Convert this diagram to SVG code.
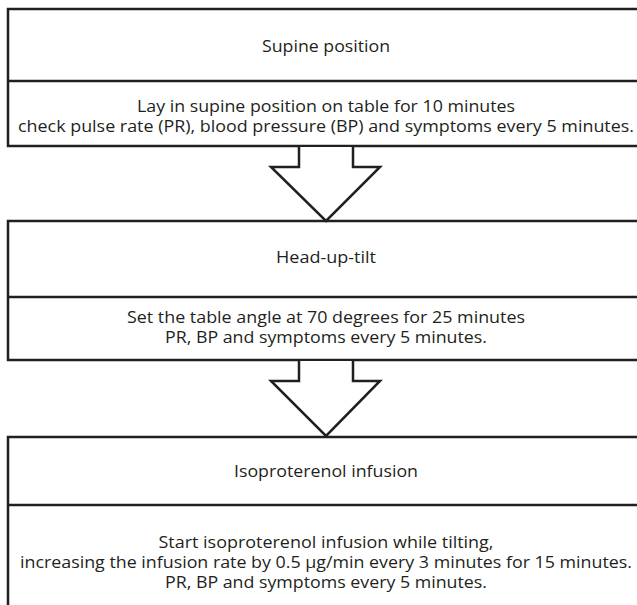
<svg xmlns="http://www.w3.org/2000/svg" width="637" height="605" viewBox="0 0 637 605">
<style>
.box{fill:#ffffff;stroke:#231f20;stroke-width:2.5}
.div{stroke:#231f20;stroke-width:2.5}
.arrow{fill:#ffffff;stroke:#231f20;stroke-width:2.5;stroke-linejoin:miter}
text{font-family:"Open Sans","Liberation Sans",sans-serif;font-size:16px;fill:#231f20;text-anchor:middle}
</style>
<rect x="0" y="0" width="637" height="605" fill="#ffffff"/>
<g id="node-supine">
<rect class="box" x="8" y="9" width="640" height="137"/>
<line class="div" x1="8" y1="81" x2="648" y2="81"/>
<text x="326" y="52" textLength="128" lengthAdjust="spacingAndGlyphs">Supine position</text>
<text x="326" y="112" textLength="378" lengthAdjust="spacingAndGlyphs">Lay in supine position on table for 10 minutes</text>
<text x="326" y="132" textLength="616" lengthAdjust="spacingAndGlyphs">check pulse rate (PR), blood pressure (BP) and symptoms every 5 minutes.</text>
</g>
<g id="node-hut">
<rect class="box" x="8" y="221" width="640" height="139"/>
<line class="div" x1="8" y1="297" x2="648" y2="297"/>
<text x="326" y="263" textLength="100" lengthAdjust="spacingAndGlyphs">Head-up-tilt</text>
<text x="326" y="323" textLength="398" lengthAdjust="spacingAndGlyphs">Set the table angle at 70 degrees for 25 minutes</text>
<text x="326" y="343" textLength="322" lengthAdjust="spacingAndGlyphs">PR, BP and symptoms every 5 minutes.</text>
</g>
<g id="node-iso">
<rect class="box" x="8" y="437" width="640" height="190"/>
<line class="div" x1="8" y1="505" x2="648" y2="505"/>
<text x="326" y="477" textLength="184" lengthAdjust="spacingAndGlyphs">Isoproterenol infusion</text>
<text x="326" y="548" textLength="335" lengthAdjust="spacingAndGlyphs">Start isoproterenol infusion while tilting,</text>
<text x="326" y="568" textLength="612" lengthAdjust="spacingAndGlyphs">increasing the infusion rate by 0.5 µg/min every 3 minutes for 15 minutes.</text>
<text x="326" y="588" textLength="322" lengthAdjust="spacingAndGlyphs">PR, BP and symptoms every 5 minutes.</text>
</g>
<g id="connectors">
<polyline class="arrow" points="299,147 299,167 271,167 326,221 380,167 353,167 353,147"/>
<polyline class="arrow" points="299,361 299,381 271,381 326,436 380,381 353,381 353,361"/>
</g>
</svg>
